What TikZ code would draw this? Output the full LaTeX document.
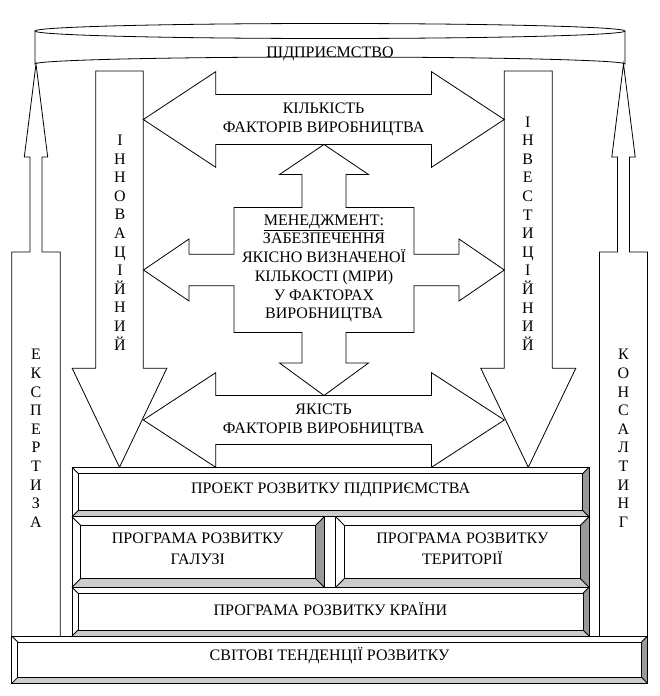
\documentclass[tikz,border=0pt]{standalone}
\usepackage{fontspec}
\setmainfont{Liberation Serif}
\definecolor{bevdark}{gray}{0.6}
\definecolor{bevlight}{gray}{0.8}
\tikzset{
  outline/.style={draw, line width=0.8pt, line join=miter},
  txt/.style={align=center, inner sep=0pt, font=\fontsize{16}{19}\selectfont},
  vtxt/.style={align=center, inner sep=0pt, font=\fontsize{16}{18.6}\selectfont},
}
\newcommand{\bevel}[5]{%
  \fill[bevdark] (#3,#2) -- (#3,#4) -- ({#3-#5},{#4-#5}) -- ({#3-#5},{#2+#5}) -- cycle;
  \fill[bevlight] (#1,#4) -- (#3,#4) -- ({#3-#5},{#4-#5}) -- ({#1+#5},{#4-#5}) -- cycle;
  \draw[outline] (#1,#2) rectangle (#3,#4) ({#1+#5},{#2+#5}) rectangle ({#3-#5},{#4-#5});
  \draw[outline] (#1,#2) -- ++(#5,#5) (#3,#2) -- ++(-#5,#5) (#3,#4) -- ++(-#5,-#5) (#1,#4) -- ++(#5,-#5);
}
\begin{document}
\begin{tikzpicture}[x=1pt, y=-1pt]
\useasboundingbox (0,0) rectangle (660,696);
\draw[outline] (330,31) ellipse [x radius=295, y radius=7.5];
\draw[outline] (35,31) -- (35,64) arc[start angle=180, end angle=360, x radius=295, y radius=7] -- (625,31);
\node[txt] (firm) at (330,53.5) {ПІДПРИЄМСТВО};
\draw[outline] (11.8,636) -- (11.8,252) -- (30,252) -- (30,157) -- (24.3,157) -- (36,64) -- (47.7,157) -- (42,157) -- (42,252) -- (60.2,252) -- (60.2,636);
\draw[outline] (599.5,636) -- (599.5,252) -- (617.5,252) -- (617.5,157) -- (611.8,157) -- (623.5,64) -- (635.2,157) -- (629.5,157) -- (629.5,252) -- (647.5,252) -- (647.5,636);
\draw[outline] (95.7,71) -- (95.7,368.3) -- (72.2,368.3) -- (119.5,467.3) -- (166.8,368.3) -- (143.3,368.3) -- (143.3,71) -- cycle;
\draw[outline] (504.3,71) -- (504.3,368.3) -- (480.8,368.3) -- (528.3,467.3) -- (575.8,368.3) -- (552.3,368.3) -- (552.3,71) -- cycle;
\draw[outline] (143.3,119.5) -- (215.7,71.7) -- (215.7,94.5) -- (431.5,94.5) -- (431.5,71.7) -- (504.3,119.5) -- (431.5,167.3) -- (431.5,144.5) -- (215.7,144.5) -- (215.7,167.3) -- cycle;
\draw[outline] (143.3,420) -- (215.7,372.7) -- (215.7,395.5) -- (431.5,395.5) -- (431.5,372.7) -- (504.3,420) -- (431.5,467.3) -- (431.5,444.5) -- (215.7,444.5) -- (215.7,467.3) -- cycle;
\draw[outline] (324,144.5) -- (368.5,174.5) -- (346,174.5) -- (346,207.5) -- (414,207.5) -- (414,254.3) -- (459,254.3) -- (459,239) -- (504.3,270) -- (459,301) -- (459,285.7) -- (414,285.7) -- (414,332.5) -- (346,332.5) -- (346,363) -- (368.5,363) -- (324,395.5) -- (279.5,363) -- (302,363) -- (302,332.5) -- (234,332.5) -- (234,285.7) -- (189,285.7) -- (189,301) -- (143.5,270) -- (189,239) -- (189,254.3) -- (234,254.3) -- (234,207.5) -- (302,207.5) -- (302,174.5) -- (279.5,174.5) -- cycle;
\node[txt] (qty) at (323.6,119) {КІЛЬКІСТЬ\\ФАКТОРІВ ВИРОБНИЦТВА};
\node[txt] (qual) at (323.6,420) {ЯКІСТЬ\\ФАКТОРІВ ВИРОБНИЦТВА};
\node[txt, font=\fontsize{16}{18.7}\selectfont] (mgmt) at (324,268.5) {\underline{МЕНЕДЖМЕНТ:}\\ЗАБЕЗПЕЧЕННЯ\\ЯКІСНО ВИЗНАЧЕНОЇ\\КІЛЬКОСТІ (МІРИ)\\У ФАКТОРАХ\\ВИРОБНИЦТВА};
\node[vtxt] (innov) at (120,242.5) {І\\Н\\Н\\О\\В\\А\\Ц\\І\\Й\\Н\\И\\Й};
\node[vtxt] (invest) at (527.8,233.4) {І\\Н\\В\\Е\\С\\Т\\И\\Ц\\І\\Й\\Н\\И\\Й};
\node[vtxt] (expert) at (36,438.3) {Е\\К\\С\\П\\Е\\Р\\Т\\И\\З\\А};
\node[vtxt] (consult) at (623.5,438.3) {К\\О\\Н\\С\\А\\Л\\Т\\И\\Н\\Г};
\bevel{72}{467.3}{589}{516.7}{6.2}
\bevel{72}{516.7}{324.3}{587.3}{8.6}
\bevel{335.7}{516.7}{589}{587.3}{8.6}
\bevel{72}{587.3}{589}{636}{6}
\bevel{11.8}{636}{647.5}{683.3}{5.9}
\node[txt] (proj) at (330.6,489.5) {ПРОЕКТ РОЗВИТКУ ПІДПРИЄМСТВА};
\node[txt, font=\fontsize{16}{21}\selectfont] (branch) at (197.8,549) {ПРОГРАМА РОЗВИТКУ\\ГАЛУЗІ};
\node[txt, font=\fontsize{16}{21}\selectfont] (terr) at (462.4,549) {ПРОГРАМА РОЗВИТКУ\\ТЕРИТОРІЇ};
\node[txt] (country) at (330.4,609.3) {ПРОГРАМА РОЗВИТКУ КРАЇНИ};
\node[txt] (world) at (329.5,656) {СВІТОВІ ТЕНДЕНЦІЇ РОЗВИТКУ};
\end{tikzpicture}
\end{document}
